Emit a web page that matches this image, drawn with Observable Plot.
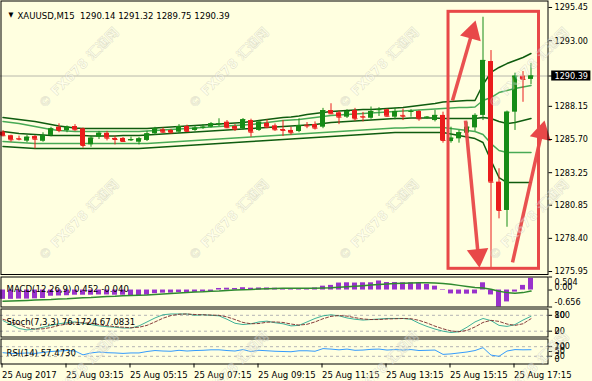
<!DOCTYPE html>
<html>
<head>
<meta charset="utf-8">
<script src="https://cdn.jsdelivr.net/npm/d3@7"></script>
<script src="https://cdn.jsdelivr.net/npm/@observablehq/plot@0.6"></script>
<style>
  html, body { margin: 0; padding: 0; background: #ffffe0; }
  #chart { position: relative; width: 592px; height: 381px; overflow: hidden; background: #ffffe0; }
  #chart svg { position: absolute; left: 0; }
  .wm { position: absolute; white-space: nowrap; transform-origin: 0 50%;
        font: bold 13px "DejaVu Sans", "Noto Sans CJK SC", sans-serif;
        color: rgba(255,255,255,0.35); -webkit-text-stroke: 0.6px rgba(150,150,140,0.28);
        pointer-events: none; }
</style>
</head>
<body>
<div id="chart"></div>
<script>
// XAUUSD M15, 25 Aug 2017, bars 01:15 .. 17:45
const symbol = "XAUUSD", period = "M15";

const barOpen = [1286.25,1285.98,1285.77,1285.58,1285.92,1285.57,1286.00,1286.61,1286.35,1286.66,
  1286.49,1285.31,1285.87,1286.16,1285.78,1285.78,1285.60,1285.50,1285.63,1286.12,
  1286.42,1286.37,1286.24,1286.66,1286.37,1286.56,1286.61,1286.80,1286.98,1286.66,
  1286.49,1287.10,1286.37,1286.90,1286.71,1286.44,1286.37,1286.29,1286.75,1286.81,
  1286.61,1287.84,1287.67,1287.35,1287.84,1287.40,1287.27,1287.86,1287.90,1287.35,
  1287.48,1287.74,1287.77,1287.27,1287.10,1287.48,1285.55,1285.75,1286.17,1286.56,
  1287.48,1291.46,1282.55,1280.46,1287.72,1290.38,1290.14];
const barHigh = [1286.35,1286.02,1285.95,1285.99,1285.99,1286.20,1286.60,1286.86,1286.70,1286.80,
  1286.55,1285.95,1286.30,1286.30,1285.95,1285.85,1285.88,1285.85,1286.30,1286.60,
  1286.55,1286.45,1286.80,1286.76,1286.70,1286.80,1286.95,1287.23,1287.10,1286.80,
  1287.25,1287.20,1287.10,1287.15,1286.85,1287.10,1286.60,1287.23,1286.95,1287.00,
  1288.00,1288.34,1287.80,1287.90,1288.00,1287.70,1288.10,1288.05,1287.95,1288.00,
  1287.95,1287.90,1287.85,1287.40,1287.85,1287.72,1286.61,1286.37,1286.98,1287.60,
  1294.73,1292.27,1283.54,1287.80,1290.60,1290.72,1291.32];
const barLow = [1285.90,1285.50,1285.60,1285.46,1285.00,1285.50,1285.90,1286.20,1286.20,1286.30,
  1285.06,1285.13,1285.70,1285.60,1285.30,1285.50,1285.55,1285.30,1285.55,1286.00,
  1286.15,1286.10,1286.15,1286.22,1286.30,1286.45,1286.55,1286.66,1286.50,1286.30,
  1286.40,1285.87,1286.30,1286.50,1286.30,1285.92,1286.00,1286.20,1286.50,1286.40,
  1286.50,1287.55,1286.80,1287.25,1287.05,1287.00,1287.20,1287.40,1287.35,1287.15,
  1287.10,1287.35,1287.05,1287.20,1287.00,1285.43,1285.43,1285.43,1286.10,1286.30,
  1287.10,1276.15,1279.84,1279.22,1286.37,1288.45,1289.75];
const barClose = [1285.98,1285.68,1285.72,1285.87,1285.72,1286.00,1286.49,1286.37,1286.61,1286.42,
  1285.26,1285.80,1286.16,1285.80,1285.70,1285.55,1285.70,1285.75,1286.12,1286.49,
  1286.24,1286.20,1286.66,1286.30,1286.54,1286.61,1286.86,1286.86,1286.57,1286.46,
  1287.16,1286.24,1286.98,1286.61,1286.42,1286.37,1286.20,1286.73,1286.70,1286.54,
  1287.84,1287.60,1287.35,1287.77,1287.23,1287.35,1287.77,1287.90,1287.42,1287.77,
  1287.42,1287.77,1287.23,1287.35,1287.48,1285.63,1285.80,1286.20,1286.61,1287.48,
  1291.54,1282.55,1280.46,1287.72,1290.38,1290.14,1290.39];

// price bands: outer (2 dev), inner (1 dev) and the middle average
const bandUpperOuter = [1287.33,1287.25,1287.18,1287.10,1287.03,1286.92,1286.81,1286.70,1286.62,1286.55,
  1286.51,1286.51,1286.51,1286.51,1286.51,1286.51,1286.51,1286.51,1286.51,1286.55,
  1286.59,1286.62,1286.66,1286.70,1286.73,1286.77,1286.81,1286.85,1286.88,1286.92,
  1286.96,1287.03,1287.10,1287.18,1287.25,1287.33,1287.36,1287.44,1287.55,1287.62,
  1287.69,1287.77,1287.80,1287.84,1287.88,1287.92,1287.92,1287.95,1287.99,1288.03,
  1288.06,1288.14,1288.21,1288.29,1288.36,1288.47,1288.51,1288.54,1288.58,1288.58,
  1289.76,1290.65,1291.02,1291.31,1291.54,1291.76,1292.05];
const bandUpperInner = [1287.03,1286.96,1286.88,1286.77,1286.66,1286.55,1286.44,1286.37,1286.33,1286.29,
  1286.29,1286.29,1286.29,1286.29,1286.29,1286.29,1286.29,1286.29,1286.33,1286.37,
  1286.40,1286.44,1286.48,1286.51,1286.55,1286.59,1286.62,1286.66,1286.70,1286.73,
  1286.77,1286.81,1286.88,1286.96,1287.03,1287.10,1287.14,1287.18,1287.25,1287.33,
  1287.40,1287.47,1287.51,1287.55,1287.58,1287.62,1287.66,1287.69,1287.73,1287.77,
  1287.80,1287.84,1287.88,1287.92,1287.95,1287.99,1288.03,1288.06,1288.06,1288.10,
  1288.58,1288.80,1289.17,1289.32,1289.47,1289.58,1289.69];
const bandMiddle = [1286.29,1286.22,1286.14,1286.11,1286.07,1286.03,1285.99,1285.99,1285.99,1285.99,
  1285.99,1285.96,1285.96,1285.96,1285.96,1285.99,1285.99,1285.99,1286.03,1286.07,
  1286.11,1286.14,1286.18,1286.22,1286.26,1286.29,1286.33,1286.37,1286.40,1286.44,
  1286.48,1286.51,1286.55,1286.59,1286.62,1286.66,1286.70,1286.73,1286.77,1286.81,
  1286.88,1286.96,1286.99,1287.03,1287.07,1287.10,1287.14,1287.18,1287.22,1287.25,
  1287.25,1287.29,1287.29,1287.29,1287.29,1287.25,1287.25,1287.25,1287.25,1287.25,
  1287.33,1287.25,1287.03,1286.88,1286.96,1287.10,1287.25];
const bandLowerInner = [1285.55,1285.52,1285.48,1285.44,1285.40,1285.40,1285.40,1285.40,1285.40,1285.40,
  1285.40,1285.40,1285.40,1285.40,1285.40,1285.40,1285.40,1285.40,1285.40,1285.44,
  1285.48,1285.52,1285.55,1285.59,1285.63,1285.66,1285.70,1285.74,1285.77,1285.81,
  1285.85,1285.89,1285.92,1285.96,1285.99,1286.03,1286.07,1286.11,1286.14,1286.18,
  1286.22,1286.26,1286.29,1286.33,1286.37,1286.40,1286.44,1286.48,1286.51,1286.55,
  1286.55,1286.59,1286.59,1286.59,1286.59,1286.59,1286.51,1286.44,1286.37,1286.29,
  1286.07,1285.40,1284.89,1284.74,1284.74,1284.74,1284.74];
const bandLowerOuter = [1285.18,1285.15,1285.11,1285.07,1285.04,1285.04,1285.04,1285.04,1285.04,1285.04,
  1285.04,1285.04,1285.04,1285.04,1285.04,1285.04,1285.04,1285.04,1285.07,1285.11,
  1285.15,1285.18,1285.22,1285.26,1285.29,1285.33,1285.37,1285.40,1285.44,1285.48,
  1285.52,1285.55,1285.59,1285.63,1285.66,1285.70,1285.74,1285.77,1285.81,1285.85,
  1285.89,1285.92,1285.96,1285.99,1286.03,1286.07,1286.11,1286.14,1286.18,1286.22,
  1286.22,1286.22,1286.22,1286.22,1286.22,1286.22,1286.11,1285.99,1285.89,1285.77,
  1285.48,1284.15,1282.89,1282.52,1282.52,1282.52,1282.52];

const macdHist = [-0.36,-0.36,-0.35,-0.35,-0.34,-0.33,-0.24,-0.23,-0.22,-0.20,
  -0.20,-0.20,-0.19,-0.19,-0.20,-0.20,-0.22,-0.23,-0.20,-0.14,
  -0.12,-0.12,-0.10,-0.10,-0.09,-0.08,-0.07,0.06,0.07,0.06,
  0.09,0.07,0.08,0.08,0.07,0.06,0.05,0.05,0.05,0.08,
  0.15,0.18,0.27,0.28,0.27,0.28,0.28,0.35,0.29,0.29,
  0.28,0.28,0.27,0.22,0.15,0.02,-0.15,-0.16,-0.16,-0.15,
  0.28,-0.19,-0.656,-0.46,-0.08,0.18,0.452];
const macdSignal = [-0.43,-0.42,-0.41,-0.40,-0.39,-0.38,-0.37,-0.35,-0.34,-0.32,
  -0.30,-0.29,-0.27,-0.25,-0.24,-0.22,-0.21,-0.20,-0.19,-0.17,
  -0.15,-0.13,-0.11,-0.10,-0.08,-0.07,-0.05,-0.04,-0.02,0.00,
  0.01,0.02,0.04,0.05,0.06,0.07,0.07,0.07,0.07,0.07,
  0.08,0.09,0.11,0.13,0.15,0.17,0.19,0.21,0.23,0.25,
  0.26,0.27,0.28,0.28,0.27,0.25,0.22,0.18,0.14,0.10,
  0.08,0.03,-0.05,-0.10,-0.12,-0.10,-0.04];
const macdScale = [-0.656, 0.504];

const stochMain = [60,45,30,25,28,35,42,48,52,55,
  50,45,40,37,35,32,32,40,55,70,
  82,85,85,85,80,82,80,78,65,50,
  45,48,55,58,52,48,40,42,55,68,
  78,82,78,70,65,62,64,66,68,68,
  68,65,50,38,28,20,15,18,35,55,
  68,60,42,38,45,62,76.1724];
const stochSignal = [65,55,45,33,28,29,34,42,47,52,
  52,50,45,41,37,35,33,35,42,55,
  69,79,84,85,83,82,81,80,74,64,
  53,48,49,54,55,53,47,43,46,55,
  67,76,79,77,71,66,64,64,66,67,
  68,67,61,51,39,29,21,18,23,36,
  53,61,57,47,42,48,67.0831];
const stochLevels = [80, 20];

const rsi = [45,42,42,44,42,46,50,52,54,52,
  36,44,48,45,44,42,44,44,50,54,
  52,51,55,52,54,55,57,57,54,52,
  58,50,55,53,51,50,49,53,53,51,
  62,60,57,60,55,56,59,60,56,58,
  56,58,54,55,56,38,40,44,48,54,
  66,35,30,52,58,57,57.4730];
const rsiLevels = [70, 30];

const priceTicks = [1295.45, 1293.00, 1288.15, 1285.70, 1283.25, 1280.85, 1278.40, 1275.95];
const timeTickBars = [0, 8, 16, 24, 32, 40, 48, 56, 64];
const timeLabels = ["25 Aug 2017", "25 Aug 03:15", "25 Aug 05:15", "25 Aug 07:15", "25 Aug 09:15",
  "25 Aug 11:15", "25 Aug 13:15", "25 Aug 15:15", "25 Aug 17:15"];

// annotation: box round the spike and arrows (bar index, price)
const spikeBox = [{x1: 55.69, x2: 67.0, y1: 1276.15, y2: 1295.13}];
const arrows = [
  {x1: 56.19, y1: 1288.58, x2: 58.64, y2: 1293.61, angle: 16},
  {x1: 57.81, y1: 1287.10, x2: 59.40, y2: 1277.15, angle: 174},
  {x1: 63.69, y1: 1276.62, x2: 67.34, y2: 1286.21, angle: 13}
];

// ---- drawing ----
const FONT = '"DejaVu Sans Condensed","DejaVu Sans",sans-serif';
const UP = "#168c16", DOWN = "#ea1c1c";
const DARK = "#0f5c0f", LIGHT = "#48aa55";
const RED = "#e84848";
const X_MIN = -0.3125, X_MAX = 68.1875;   // 8 px per bar across the 548 px chart area
const HALF = 0.3125;                       // half a candle body

const bars = barOpen.map((o, i) => ({
  i, o, h: barHigh[i], l: barLow[i], c: barClose[i],
  color: barClose[i] >= o ? UP : DOWN,
  uo: bandUpperOuter[i], ui: bandUpperInner[i], m: bandMiddle[i],
  li: bandLowerInner[i], lo: bandLowerOuter[i],
  hist: macdHist[i], sig: macdSignal[i],
  k: stochMain[i], d: stochSignal[i], rsi: rsi[i]
}));
const last = bars[bars.length - 1];

function panel(height, marginTop, marginBottom, y, marks) {
  return Plot.plot({
    width: 592, height, marginLeft: 0, marginRight: 44, marginTop, marginBottom,
    x: {domain: [X_MIN, X_MAX], axis: null},
    y: {...y, axis: null},
    color: {type: "identity"},
    style: {background: "transparent", overflow: "visible", fontFamily: FONT, fontSize: "9px", color: "black"},
    marks
  });
}
const frame = () => Plot.frame({stroke: "black", insetLeft: 0.5, insetRight: 0.5});
const tickMarks = (vals) => Plot.link(vals, {x1: X_MAX, x2: X_MAX + 0.45, y1: d => d, y2: d => d, stroke: "black"});
const label = (vals, fmt, dy = 0) => Plot.text(vals, {x: X_MAX, y: d => d, text: fmt, dx: 6, dy, textAnchor: "start", fill: "black"});
const caption = (text, dy) => Plot.text([text], {frameAnchor: "top-left", dx: 6, dy, textAnchor: "start", fill: "black", fontSize: 9.5});

const title = `${symbol},${period}  ${last.o.toFixed(2)} ${last.h.toFixed(2)} ${last.l.toFixed(2)} ${last.c.toFixed(2)}`;

const main = panel(275, 0.5, 1, {domain: [1275.73, 1295.93]}, [
  Plot.ruleY([last.c], {stroke: "#b8b8ac"}),
  Plot.line(bars, {x: "i", y: "uo", stroke: DARK}),
  Plot.line(bars, {x: "i", y: "ui", stroke: LIGHT}),
  Plot.line(bars, {x: "i", y: "m", stroke: DARK}),
  Plot.line(bars, {x: "i", y: "li", stroke: LIGHT}),
  Plot.line(bars, {x: "i", y: "lo", stroke: DARK}),
  Plot.ruleX(bars, {x: "i", y1: "l", y2: "h", stroke: "color"}),
  Plot.rect(bars, {x1: d => d.i - HALF, x2: d => d.i + HALF, y1: "o", y2: "c", fill: "color"}),
  Plot.link(bars, {x1: d => d.i - HALF, x2: d => d.i + HALF, y1: "c", y2: "c", stroke: "color"}),
  Plot.rect(spikeBox, {x1: "x1", x2: "x2", y1: "y1", y2: "y2", fill: "none", stroke: RED, strokeWidth: 3}),
  Plot.link(arrows, {x1: "x1", y1: "y1", x2: "x2", y2: "y2", stroke: RED, strokeWidth: 3.5, strokeOpacity: 0.95}),
  Plot.dot(arrows, {x: "x2", y: "y2", symbol: "triangle", r: 8, rotate: "angle", fill: RED, stroke: null}),
  frame(),
  Plot.text(["\u25BC"], {frameAnchor: "top-left", dx: 8, dy: 11, fontSize: 7, fill: "black"}),
  Plot.text([title], {frameAnchor: "top-left", dx: 17, dy: 11, textAnchor: "start", fill: "black", fontSize: 9.5}),
  tickMarks(priceTicks.concat([last.c])),
  label(priceTicks, d => d.toFixed(2)),
  Plot.rect([last.c], {x1: X_MAX + 0.4, x2: X_MAX + 5.3, y1: d => d - 0.37, y2: d => d + 0.37, fill: "black"}),
  Plot.text([last.c], {x: X_MAX, y: d => d, text: d => d.toFixed(2), dx: 6, textAnchor: "start", fill: "white"})
]);

const macd = panel(31, 0.5, 0.5, {domain: macdScale}, [
  Plot.rect(bars, {x1: d => d.i - HALF, x2: d => d.i + HALF, y1: 0, y2: "hist", fill: "#9932cc"}),
  Plot.line(bars, {x: "i", y: "sig", stroke: "#2f8a2f"}),
  frame(),
  caption(`MACD(12,26,9) ${last.hist.toFixed(3)} ${last.sig.toFixed(3)}`, 8.5),
  tickMarks([macdScale[1], 0, macdScale[0]]),
  label([macdScale[1]], d => d.toFixed(3), 5.5),
  label([0], d => d.toFixed(2), -2.5),
  label([macdScale[0]], d => d.toFixed(3), -5)
]);

const stoch = panel(29, 0.5, 0.5, {domain: [0, 100], range: [28, 1.5]}, [
  Plot.ruleY(stochLevels, {stroke: "#b4b4b4", strokeDasharray: "3,3"}),
  Plot.line(bars, {x: "i", y: "k", stroke: "#2aa890", strokeWidth: 0.9}),
  Plot.line(bars, {x: "i", y: "d", stroke: "#7a2a2a", strokeWidth: 0.9, strokeDasharray: "3,2"}),
  frame(),
  caption(`Stoch(7,3,3) ${last.k.toFixed(4)} ${last.d.toFixed(4)}`, 9.5),
  tickMarks(stochLevels),
  label([100], d => d, 5),
  label(stochLevels, d => d),
  label([0], d => d, -5)
]);

const rsiPanel = panel(43, 0.5, 17.5, {domain: [0, 100], range: [25, 1]}, [
  Plot.ruleY(rsiLevels, {stroke: "#b4b4b4", strokeDasharray: "3,3"}),
  Plot.line(bars, {x: "i", y: "rsi", stroke: "#1e90ff", strokeWidth: 0.9}),
  frame(),
  caption(`RSI(14) ${last.rsi.toFixed(4)}`, 10.5),
  tickMarks([70, 50, 30]),
  label([100], d => d, 7),
  label([70, 50, 30], d => d),
  label([0], d => d, -4),
  Plot.axisX(timeTickBars, {anchor: "bottom", label: null, tickSize: 4, tickPadding: 3, textAnchor: "start", dx: -1,
    tickFormat: d => timeLabels[timeTickBars.indexOf(d)], fontSize: 9.5, stroke: "black", fill: "black"})
]);

const chart = document.getElementById("chart");
[[main, 0], [macd, 276], [stoch, 308], [rsiPanel, 338]].forEach(([svg, top]) => {
  svg.style.top = top + "px";
  chart.appendChild(svg);
});

// watermark overlay
for (let r = 0; r < 3; r++) {
  for (let c = 0; c < 4; c++) {
    const s = document.createElement("span");
    s.className = "wm";
    s.textContent = "\u00A9 FX678 \u6C47\u901A\u7F51";
    s.style.left = (40 + 150 * c) + "px";
    s.style.top = (105 + 152 * r) + "px";
    s.style.transform = "translateY(-50%) rotate(-45deg)";
    chart.appendChild(s);
  }
}
</script>
</body>
</html>
